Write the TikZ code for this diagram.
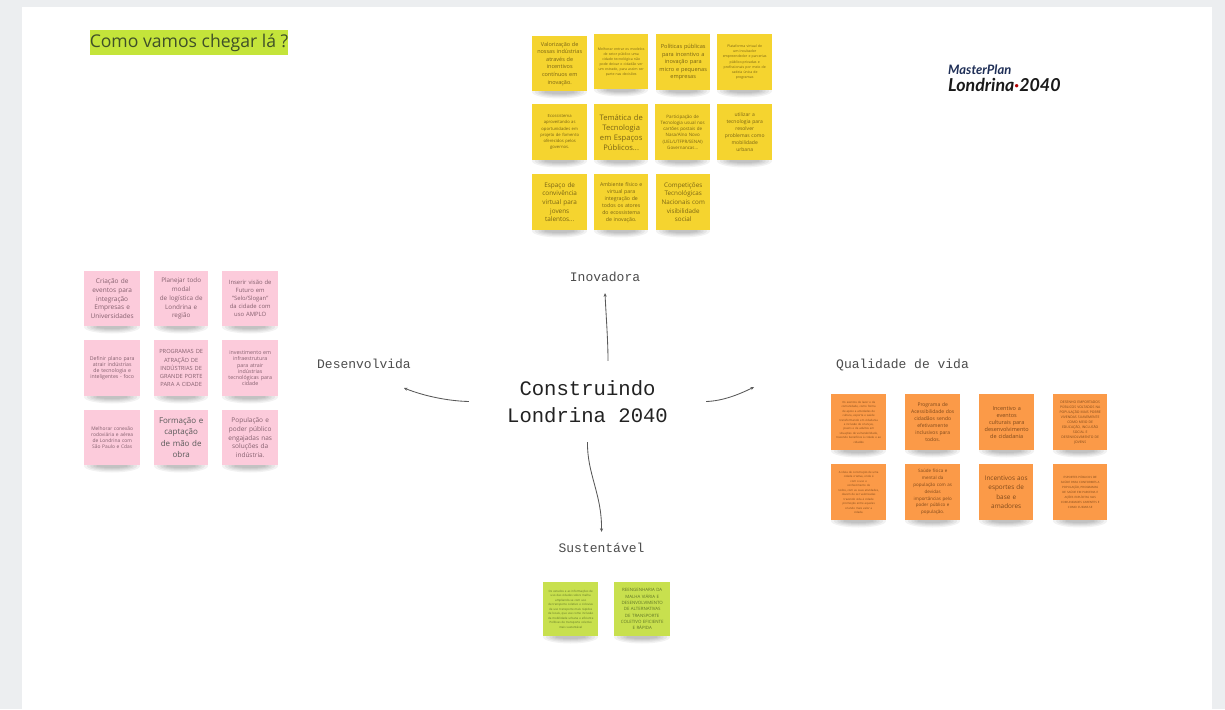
\documentclass[tikz,border=0pt]{standalone}
\usepackage{fontspec}
\setmainfont{Open Sans}
\newfontfamily\monof{Liberation Mono}
\newfontfamily\logof{Lato}
\usetikzlibrary{arrows.meta}
\newcommand\fz[2]{\fontsize{#1pt}{#2pt}\selectfont}
\definecolor{pagebg}{HTML}{ECEEF0}
\definecolor{ylwc}{HTML}{F5D42F}
\definecolor{ylwt}{HTML}{7A6414}
\definecolor{pnkc}{HTML}{FCCBDB}
\definecolor{pnkt}{HTML}{85606E}
\definecolor{orgc}{HTML}{FB9A48}
\definecolor{orgt}{HTML}{80491A}
\definecolor{grnc}{HTML}{C8E04E}
\definecolor{grnt}{HTML}{5F7426}
\definecolor{hlc}{HTML}{C4E43A}
\definecolor{navy}{HTML}{1F2F57}
\definecolor{inkc}{HTML}{222222}
\definecolor{titlec}{HTML}{3F5028}
\tikzset{
  x=1pt,y=-1pt,
  note/.style={anchor=north west,inner sep=0pt,align=center,rectangle},
  ylw/.style={note,fill=ylwc,text=ylwt},
  pnk/.style={note,fill=pnkc,text=pnkt},
  org/.style={note,fill=orgc,text=orgt},
  grn/.style={note,fill=grnc,text=grnt},
  theme/.style={inner sep=0pt,text=black!70,font=\monof\fz{13}{15}},
  link/.style={draw=black!65,line width=.85pt,-{Stealth[length=3.5pt,width=3.2pt]}},
  shade/.style={black,opacity=.05},
}
% name, x, y, w, h, style, text
\newcommand\nt[7]{%
  \fill[shade] ({#2+#4/2},{#3+#5+1}) ellipse [x radius={#4/2},y radius=6.5];
  \fill[shade] ({#2+#4/2},{#3+#5+1}) ellipse [x radius={#4/2-3},y radius=5.2];
  \fill[shade] ({#2+#4/2},{#3+#5+1}) ellipse [x radius={#4/2-6},y radius=4];
  \fill[shade] ({#2+#4/2},{#3+#5+1}) ellipse [x radius={#4/2-9},y radius=3];
  \fill[shade] ({#2+#4/2},{#3+#5+1}) ellipse [x radius={#4/2-12},y radius=2];
  \node[#6,minimum width=#4,minimum height=#5,text width={#4-4}] (#1) at (#2,#3) {#7};%
}
\begin{document}
\begin{tikzpicture}
\useasboundingbox (0,0) rectangle (1225,709);
\fill[pagebg] (0,0) rectangle (1225,709);
\fill[white] (22,7) rectangle (1212,709);

% heading
\node[fill=hlc,inner sep=0pt,minimum width=198,minimum height=25,text=titlec,font=\fz{17.6}{20}] (title) at (189,42.5) {Como vamos chegar lá ?};

% logo
\node[anchor=west,inner sep=0pt,text=navy,font=\logof\bfseries\itshape\fz{13}{15}] (logoa) at (948,70) {MasterPlan};
\node[anchor=west,inner sep=0pt,text=black!90,font=\logof\bfseries\itshape\fz{17.8}{20}] (logob) at (948,84.5) {Londrina\textcolor{red!70!black}{·}2040};

% yellow notes
\nt{y1}{532}{36}{55}{55}{ylw,font=\fz{5.5}{7.6}}{Valorização de\\nossas indústrias\\através de\\incentivos\\contínuos em\\inovação.}
\nt{y2}{594}{34}{54}{55}{ylw,font=\fz{3.5}{5}}{Melhorar entrar os modelos\\de setor público  uma\\cidade tecnológica não\\pode deixar o cidadão ver\\um estrado, para assim ser\\parte nas decisões}
\nt{y3}{656}{34}{54}{56}{ylw,font=\fz{5.6}{7.6}}{Políticas públicas\\para incentivo a\\inovação para\\micro e pequenas\\empresas}
\nt{y4}{717}{34}{55}{56}{ylw,font=\fz{3.5}{5.2}}{Plataforma virtual de\\um incubador\\empreendedor e parcerias\\público-privadas e\\profissionais por meio de\\cadeia única de\\programas}
\nt{y5}{532}{104}{55}{56}{ylw,font=\fz{4.2}{6.2}}{Ecossistema\\aproveitando as\\oportunidades em\\projeto de fomento\\oferecidos pelos\\governos.}
\nt{y6}{594}{104}{54}{56}{ylw,font=\fz{7.6}{10}}{Temática de\\Tecnologia\\em Espaços\\Públicos...}
\nt{y7}{655}{104}{55}{56}{ylw,font=\fz{4.5}{6.2}}{Participação de\\Tecnologia usual nos\\cartões postais de\\Nasa/Alno Novo\\(UEL/UTFPR/SENAI)\\Governancas...}
\nt{y8}{717}{104}{55}{56}{ylw,font=\fz{5}{7}}{utilizar a\\tecnologia para\\resolver\\problemas como\\mobilidade\\urbana}
\nt{y9}{532}{174}{55}{56}{ylw,font=\fz{6.4}{8.6}}{Espaço de\\convivência\\virtual para\\jovens\\talentos...}
\nt{y10}{594}{174}{54}{56}{ylw,font=\fz{5.2}{7}}{Ambiente físico e\\virtual para\\integração de\\todos os atores\\do ecossistema\\de inovação.}
\nt{y11}{656}{174}{54}{56}{ylw,font=\fz{6.3}{8.6}}{Competições\\Tecnológicas\\Nacionais com\\visibilidade\\social}

% pink notes
\nt{p1}{84}{271}{56}{55}{pnk,font=\fz{6.5}{8.8}}{Criação de\\eventos para\\integração\\Empresas e\\Universidades}
\nt{p2}{154}{271}{54}{55}{pnk,font=\fz{6.3}{8.8}}{Planejar todo\\modal\\de logística de\\Londrina e\\região}
\nt{p3}{222}{271}{56}{55}{pnk,font=\fz{5.9}{8}}{Inserir visão de\\Futuro em\\"Selo/Slogan"\\da cidade com\\uso AMPLO}
\nt{p4}{84}{340}{56}{56}{pnk,font=\fz{5.2}{6.2}}{Definir plano para\\atrair indústrias\\de tecnologia e\\inteligentes - foco}
\nt{p5}{154}{340}{54}{56}{pnk,font=\fz{5.7}{8.2}}{PROGRAMAS DE\\ATRAÇÃO DE\\INDÚSTRIAS DE\\GRANDE PORTE\\PARA A CIDADE}
\nt{p6}{222}{340}{56}{56}{pnk,font=\fz{5.3}{6.2}}{investimento em\\infraestrutura\\para  atrair\\indústrias\\tecnológicas para\\cidade}
\nt{p7}{84}{410}{56}{55}{pnk,font=\fz{4.9}{6.2}}{Melhorar conexão\\rodoviária e aérea\\de Londrina com\\São Paulo e Cdas}
\nt{p8}{154}{410}{54}{55}{pnk,text=black!65,font=\fz{8}{11.4}}{Formação e\\captação\\de mão de\\obra}
\nt{p9}{222}{410}{56}{55}{pnk,font=\fz{6.5}{8.6}}{População e\\poder público\\engajadas nas\\soluções da\\indústria.}

% orange notes
\nt{o1}{831}{394}{55}{56}{org,font=\fz{2.8}{4.4}}{Os eventos de lazer e da\\comunidade, como forma\\de apoio a atividades de\\cultura, esporte e saúde\\transformando em cidadania\\e inclusão de crianças,\\jovens e de adultos em\\situações de vulnerabilidade,\\trazendo benefícios à cidade e ao\\cidadão}
\nt{o2}{905}{394}{55}{56}{org,font=\fz{5}{7}}{Programa de\\Acessibilidade dos\\cidadãos sendo\\efetivamente\\inclusivos para\\todos.}
\nt{o3}{979}{394}{55}{56}{org,font=\fz{5.5}{7}}{Incentivo a\\eventos\\culturais para\\desenvolvimento\\de cidadania}
\nt{o4}{1053}{394}{54}{56}{org,font=\fz{3.4}{5}}{DESENHO EMPORTADOS\\PÚBLICOS VOLTADOS NA\\POPULAÇÃO MAIS POBRE\\VIVENDAS SUAVEMENTE\\COMO MEIO DE\\EDUCAÇÃO, INCLUSÃO\\SOCIAL E\\DESENVOLVIMENTO DE\\JOVENS}
\nt{o5}{831}{464}{55}{56}{org,font=\fz{2.8}{4.5}}{A ideia de construção de uma\\cidade criativa, onde é\\com o uso e\\conhecimento de\\todos, com as suas atividades,\\devem de ser valorizadas\\trazendo vida à cidade\\promoção entre aqueles\\criando mais valor a\\cidade.}
\nt{o6}{905}{464}{55}{56}{org,font=\fz{4.5}{6.8}}{Saúde física e\\mental da\\população com as\\devidas\\importâncias pelo\\poder público e\\população.}
\nt{o7}{979}{464}{54}{56}{org,font=\fz{6.4}{9.4}}{Incentivos aos\\esportes de\\base e\\amadores}
\nt{o8}{1053}{464}{54}{56}{org,font=\fz{2.9}{5}}{ESPORTES PÚBLICOS DE\\SAÚDE PARA CONFORMES A\\POPULAÇÃO, PROGRAMAS\\DE SAÚDE EM PARCERIA E\\AÇÕES EXPLÍCITAS NAS\\COMUNIDADES CARENTES E\\COMO CUIDAR-SE}

% green notes
\nt{g1}{543}{582}{55}{54}{grn,font=\fz{2.9}{4.5}}{Os estudos e as informações de\\uso das cidades sobre malha\\ampliando-se com uso\\de transporte coletivo e ciclovias\\de uso transporte mais rápidos\\de locais, que use como inclusão\\da mobilidade urbana e eficiente\\Políticas de transporte coletivo\\mais sustentável}
\nt{g2}{614}{582}{56}{54}{grn,font=\fz{4.4}{6.3}}{REENGENHARIA DA\\MALHA VIÁRIA E\\DESENVOLVIMENTO\\DE ALTERNATIVAS\\DE TRANSPORTE\\COLETIVO EFICIENTE\\E RÁPIDA}

% centre and themes
\node[inner sep=0pt,minimum width=237,minimum height=81,align=center,text=inkc,font=\monof\fz{20.6}{27.6}] (hub) at (587.5,401.5) {Construindo\\Londrina 2040};
\node[theme,minimum height=32] (inov) at (605,277) {Inovadora};
\node[theme] (dev) at (364,364) {Desenvolvida};
\node[theme] (qual) at (902.5,365) {Qualidade de vida};
\node[theme,minimum height=32] (sust) at (601.5,548) {Sustentável};

% connectors
\draw[link] ([xshift=20.5pt]hub.north) .. controls (608,340) and (606,315) .. (inov.south);
\draw[link] (hub.west) .. controls (448,401) and (424,396) .. ([xshift=40pt,yshift=-24pt]dev.center);
\draw[link] (hub.east) .. controls (722,401) and (738,395) .. ([xshift=-148.5pt,yshift=-22pt]qual.center);
\draw[link] (hub.south) .. controls (587,474) and (602,494) .. (sust.north);
\end{tikzpicture}
\end{document}
